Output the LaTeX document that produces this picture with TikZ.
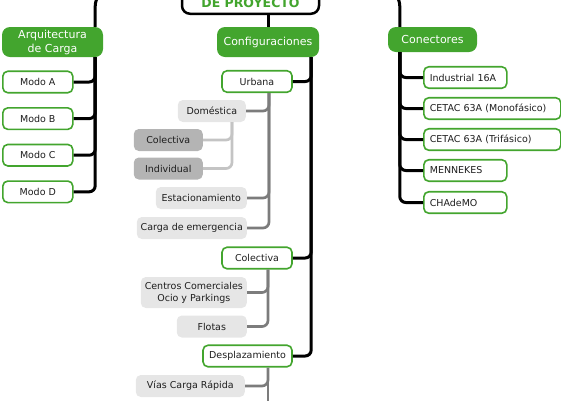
\documentclass[tikz,border=0pt]{standalone}
\usepackage{fontspec}
\setmainfont{DejaVu Sans}
\usetikzlibrary{positioning}
\definecolor{mapgreen}{HTML}{43A52E}
\definecolor{txt}{HTML}{1E1E1E}
\definecolor{lightfill}{HTML}{E6E6E6}
\definecolor{darkfill}{HTML}{B4B4B4}
\definecolor{linegray}{HTML}{7C7C7C}
\definecolor{linelight}{HTML}{C4C4C4}
\tikzset{
	base/.style={rounded corners=5pt, inner sep=0pt, align=center, text=txt, font=\fontsize{9.5}{12}\selectfont},
	topic/.style={base, fill=mapgreen, text=white, rounded corners=8pt, font=\fontsize{11}{14}\selectfont},
	leaf/.style={base, draw=mapgreen, line width=1.6pt, fill=white, minimum height=21.5pt},
	plug/.style={leaf, inner xsep=6pt, align=left, anchor=west},
	grayleaf/.style={base, fill=lightfill, minimum height=22pt},
	darkleaf/.style={base, fill=darkfill, minimum height=22pt},
	blk/.style={draw=black, line width=3pt, rounded corners=6pt},
	gry/.style={draw=linegray, line width=2.7pt, rounded corners=6pt},
	lgry/.style={draw=linelight, line width=2.7pt, rounded corners=6pt},
}
\begin{document}
\begin{tikzpicture}[x=1pt,y=1pt]
    \useasboundingbox (0,0) rectangle (561,-400);

    % root (only its lower part is on the page)
    \node[draw=black, line width=2.5pt, fill=white, rounded corners=8pt, minimum width=137pt,
          inner ysep=6pt, text height=39pt, text depth=0pt, text=mapgreen,
          font=\fontsize{12.5}{14}\selectfont\bfseries, anchor=south] (root) at (250.5,-15) {DE PROYECTO};

    % main topics
    \node[topic, minimum width=101pt, minimum height=30pt] (arq) at (52.5,-42) {Arquitectura\\de Carga};
    \node[topic, minimum width=102pt, minimum height=30pt] (conf) at (268,-42) {Configuraciones};
    \node[topic, minimum width=89pt, minimum height=25pt] (con) at (432.5,-39.5) {Conectores};

    % modos
    \node[leaf, minimum width=70pt, anchor=west] (modoA) at (2,-82) {Modo A};
    \node[leaf, minimum width=70pt, below=13.5pt of modoA] (modoB) {Modo B};
    \node[leaf, minimum width=70pt, below=13.5pt of modoB] (modoC) {Modo C};
    \node[leaf, minimum width=70pt, below=13.5pt of modoC] (modoD) {Modo D};

    % conectores
    \node[plug, text width=71pt] (ind) at (423,-77.5) {Industrial 16A};
    \node[plug, text width=125pt, below=31pt of ind.west, anchor=west] (mono) {CETAC 63A (Monofásico)};
    \node[plug, text width=125pt, below=31pt of mono.west, anchor=west] (tri) {CETAC 63A (Trifásico)};
    \node[plug, text width=71pt, below=31pt of tri.west, anchor=west] (men) {MENNEKES};
    \node[plug, text width=71pt, below=32pt of men.west, anchor=west] (cha) {CHAdeMO};

    % configuraciones
    \node[leaf, minimum width=70pt] (urb) at (257,-81.5) {Urbana};
    \node[leaf, minimum width=70pt] (col) at (257,-258) {Colectiva};
    \node[leaf, minimum width=89pt] (des) at (247.5,-356) {Desplazamiento};

    \node[grayleaf, minimum width=68pt, anchor=east] (dom) at (246,-111) {Doméstica};
    \node[darkleaf, minimum width=69pt, anchor=east] (dcol) at (203,-140) {Colectiva};
    \node[darkleaf, minimum width=69pt, anchor=east] (dind) at (203,-168.5) {Individual};
    \node[grayleaf, minimum width=91pt, anchor=east] (est) at (247,-198) {Estacionamiento};
    \node[grayleaf, minimum width=110pt, anchor=east] (emer) at (247,-228) {Carga de emergencia};

    \node[grayleaf, minimum width=106pt, minimum height=31pt, anchor=east] (cen) at (247,-292.5) {Centros Comerciales\\Ocio y Parkings};
    \node[grayleaf, minimum width=70pt, anchor=east] (flo) at (247,-326.5) {Flotas};

    \node[grayleaf, minimum width=109pt, anchor=east] (via) at (245,-386) {Vías Carga Rápida};

    % spine points
    \coordinate (arq-s) at ([xshift=-8pt]arq.south east);
    \coordinate (conf-s) at ([xshift=-8pt]conf.south east);
    \coordinate (con-s) at ([xshift=12pt]con.south west);
    \coordinate (urb-s) at ([xshift=12pt]urb.south);
    \coordinate (dom-s) at ([xshift=-14pt]dom.south east);
    \coordinate (col-s) at ([xshift=11pt]col.south);
    \coordinate (des-s) at ([xshift=20.5pt]des.south);
    \coordinate (des-end) at (268,-410);

    % root links
    \draw[blk, rounded corners=18pt] (root.west) -| ([xshift=-8pt]arq.north east);
    \draw[blk, rounded corners=18pt] (root.east) -| ([xshift=12pt]con.north west);
    \draw[blk] (conf.north) -- (conf.north |- root.south);

    \foreach \m in {modoA,modoB,modoC,modoD}
        \draw[blk] (arq-s) |- (\m);
    \foreach \c in {ind,mono,tri,men,cha}
        \draw[blk] (con-s) |- (\c);
    \foreach \c in {urb,col,des}
        \draw[blk] (conf-s) |- (\c);

    \foreach \u in {dom,est,emer}
        \draw[gry] (urb-s) |- (\u);
    \foreach \d in {dcol,dind}
        \draw[lgry] (dom-s) |- (\d);
    \foreach \k in {cen,flo}
        \draw[gry] (col-s) |- (\k);
    \draw[gry] (des-s) |- (via);
    \draw[gry] (des-s) -- (des-end);
\end{tikzpicture}
\end{document}
